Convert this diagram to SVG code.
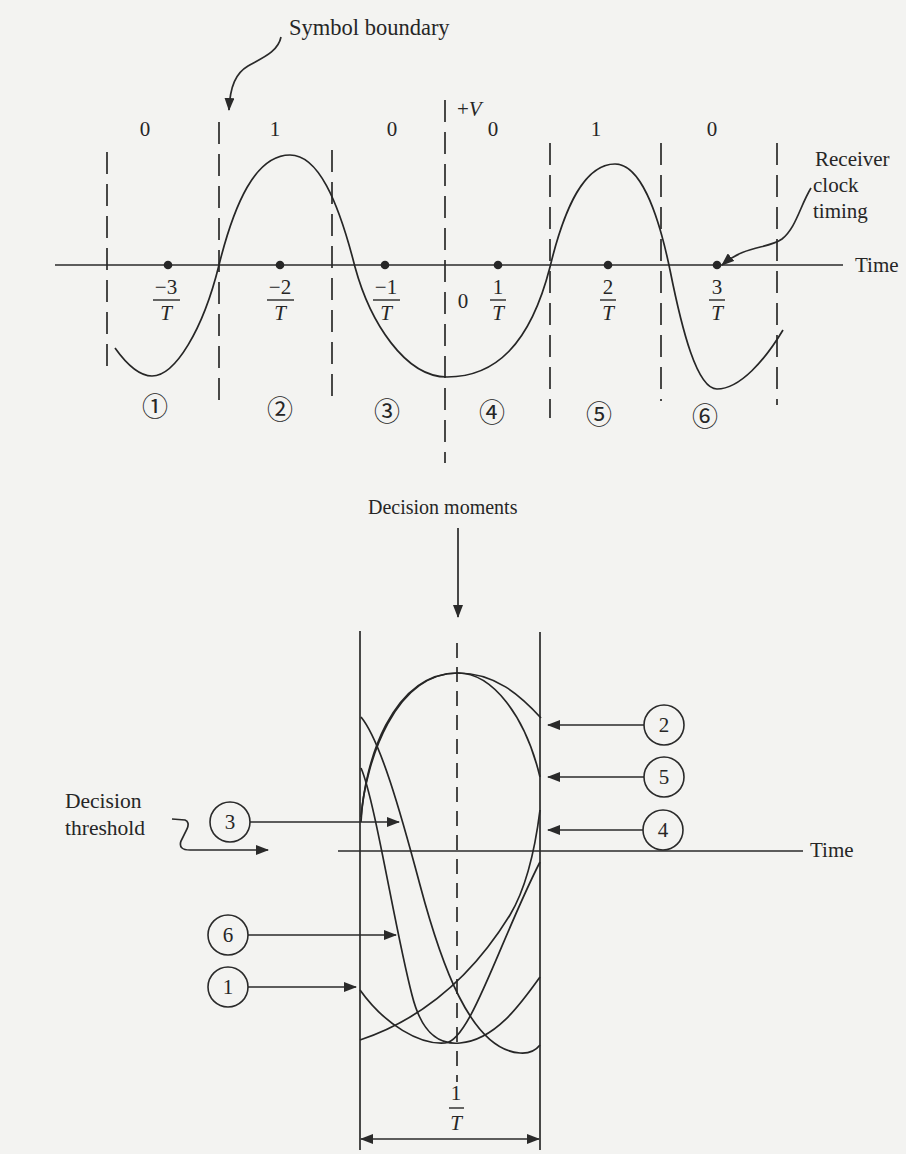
<svg xmlns="http://www.w3.org/2000/svg" width="906" height="1154" viewBox="0 0 906 1154">
<style>
.t{font-family:"Liberation Serif",serif;font-size:21px;fill:#262626}
.n{font-family:"Liberation Serif",serif;font-size:21px;fill:#262626;text-anchor:middle}
.i{font-style:italic}
.c{font-family:"Noto Sans CJK JP",sans-serif;font-size:26px;fill:#262626;text-anchor:middle}
.ln{stroke:#2a2a2a;stroke-width:1.7;fill:none}
.ds{stroke:#2a2a2a;stroke-width:1.7;fill:none;stroke-dasharray:22 10}
.de{stroke:#2a2a2a;stroke-width:1.7;fill:none;stroke-dasharray:15 9}
.wv{stroke:#262626;stroke-width:1.7;fill:none}
.bar{stroke:#262626;stroke-width:1.4}
.cir{fill:none;stroke:#2a2a2a;stroke-width:1.6}
.dot{fill:#262626}
</style>
<defs>
<marker id="ah" markerWidth="13" markerHeight="10" refX="12" refY="5" orient="auto" markerUnits="userSpaceOnUse">
<path d="M0,0 L13,5 L0,10 z" fill="#2a2a2a"/>
</marker>
<marker id="ahs" markerWidth="13" markerHeight="10" refX="1" refY="5" orient="auto" markerUnits="userSpaceOnUse">
<path d="M13,0 L0,5 L13,10 z" fill="#2a2a2a"/>
</marker>
</defs>
<rect width="906" height="1154" fill="#f3f3f1"/>

<!-- ========== TOP: waveform ========== -->
<g id="axis">
<line class="ln" x1="55" y1="265" x2="843" y2="265"/>
<text class="t" x="855" y="272">Time</text>
</g>
<g id="boundaries">
<line class="ds" x1="107" y1="152" x2="107" y2="376"/>
<line class="ds" x1="219" y1="122" x2="219" y2="408"/>
<line class="ds" x1="332" y1="150" x2="332" y2="405"/>
<line class="ds" x1="445" y1="100" x2="445" y2="463"/>
<line class="ds" x1="550" y1="143" x2="550" y2="418"/>
<line class="ds" x1="661" y1="143" x2="661" y2="401"/>
<line class="ds" x1="777" y1="143" x2="777" y2="405"/>
</g>
<g id="waveform">
<path class="wv" d="M115,348 C125,362 138,376 152,376 C175,376 203,330 219,265 C234,205 255,155 290,155 C318,155 338,200 355,267 C370,322 405,377 447,377 C495,377 530,345 550,267 C565,205 585,164 615,164 C640,164 658,212 670,270 C682,330 697,389 717,389 C740,389 765,360 783,330"/>
</g>
<g id="sample-dots">
<circle class="dot" cx="168" cy="265" r="4.3"/>
<circle class="dot" cx="280" cy="265" r="4.3"/>
<circle class="dot" cx="385" cy="265" r="4.3"/>
<circle class="dot" cx="498" cy="265" r="4.3"/>
<circle class="dot" cx="608" cy="265" r="4.3"/>
<circle class="dot" cx="717" cy="265" r="4.3"/>
</g>
<g id="bits">
<text class="n" x="145" y="136">0</text>
<text class="n" x="275" y="136">1</text>
<text class="n" x="392" y="136">0</text>
<text class="n" x="493" y="136">0</text>
<text class="n" x="596" y="136">1</text>
<text class="n" x="712" y="136">0</text>
<text class="t" x="457" y="116">+<tspan class="i">V</tspan></text>
</g>
<g id="time-labels">
<text class="n" x="166" y="294">−3</text><line class="bar" x1="153" y1="300" x2="180" y2="300"/><text class="n i" x="166" y="320">T</text>
<text class="n" x="280" y="294">−2</text><line class="bar" x1="267" y1="300" x2="294" y2="300"/><text class="n i" x="280" y="320">T</text>
<text class="n" x="386" y="294">−1</text><line class="bar" x1="373" y1="300" x2="400" y2="300"/><text class="n i" x="386" y="320">T</text>
<text class="n" x="463" y="308">0</text>
<text class="n" x="498" y="294">1</text><line class="bar" x1="490" y1="300" x2="506" y2="300"/><text class="n i" x="498" y="320">T</text>
<text class="n" x="608" y="294">2</text><line class="bar" x1="600" y1="300" x2="616" y2="300"/><text class="n i" x="608" y="320">T</text>
<text class="n" x="717" y="294">3</text><line class="bar" x1="709" y1="300" x2="725" y2="300"/><text class="n i" x="717" y="320">T</text>
</g>
<g id="slot-numbers">
<text class="c" x="155" y="416">①</text>
<text class="c" x="280" y="419">②</text>
<text class="c" x="387" y="421">③</text>
<text class="c" x="492" y="422">④</text>
<text class="c" x="599" y="424">⑤</text>
<text class="c" x="705" y="426">⑥</text>
</g>
<g id="symbol-boundary">
<text class="t" x="289" y="35" style="font-size:22.5px">Symbol boundary</text>
</g>
<g id="receiver-clock">
<text class="t" x="815" y="166">Receiver</text>
<text class="t" x="813" y="192">clock</text>
<text class="t" x="813" y="218">timing</text>
</g>

<!-- ========== BOTTOM: eye diagram ========== -->
<g id="decision-moments">
<text class="t" x="368" y="514" style="font-size:20px">Decision moments</text>
</g>
<g id="eye-frame">
<line class="ln" x1="360" y1="631" x2="360" y2="1150"/>
<line class="ln" x1="540" y1="632" x2="540" y2="1150"/>
<line class="de" x1="457" y1="643" x2="457" y2="1082"/>
<line class="ln" x1="338" y1="851" x2="803" y2="851"/>
<text class="t" x="810" y="857">Time</text>
</g>
<g id="eye-curves">
<path class="wv" d="M361,817 C366,760 395,673 458,673 C495,673 520,695 541,718"/>
<path class="wv" d="M361,822 C364,762 392,673 458,673 C492,673 525,715 540,777"/>
<path class="wv" d="M361,717 C380,740 400,810 420,885 C440,960 470,1050 520,1053 Q533,1054 540,1045"/>
<path class="wv" d="M361,768 C375,800 395,930 412,995 C422,1035 440,1045 460,1043 C495,1040 520,1005 540,977"/>
<path class="wv" d="M360,990 C385,1025 420,1045 445,1043 C470,1042 500,940 540,862"/>
<path class="wv" d="M360,1040 C420,1020 470,980 510,915 C525,890 535,850 540,810"/>
</g>
<g id="period">
<text class="n" x="456" y="1100">1</text>
<line class="bar" x1="449" y1="1108" x2="464" y2="1108"/>
<text class="n i" x="456" y="1130">T</text>
</g>
<g id="decision-threshold">
<text class="t" x="65" y="808" style="font-size:21.5px">Decision</text>
<text class="t" x="65" y="835" style="font-size:21.5px">threshold</text>
</g>
<g id="label-3"><circle class="cir" cx="230" cy="822" r="20"/><text class="n" x="230" y="829">3</text></g>
<g id="label-6"><circle class="cir" cx="228" cy="935" r="20"/><text class="n" x="228" y="942">6</text></g>
<g id="label-1"><circle class="cir" cx="228" cy="987" r="20"/><text class="n" x="228" y="994">1</text></g>
<g id="label-2"><circle class="cir" cx="664" cy="725" r="20"/><text class="n" x="664" y="732">2</text></g>
<g id="label-5"><circle class="cir" cx="664" cy="777" r="20"/><text class="n" x="664" y="784">5</text></g>
<g id="label-4"><circle class="cir" cx="663" cy="830" r="20"/><text class="n" x="663" y="837">4</text></g>

<g id="connectors">
<path class="ln" d="M281,37 C278,52 262,58 248,66 C236,73 230,86 229,110" marker-end="url(#ah)"/>
<path class="ln" d="M811,188 C800,206 796,228 782,239 C768,249 745,245 722,265" marker-end="url(#ah)"/>
<line class="ln" x1="458" y1="528" x2="458" y2="617" marker-end="url(#ah)"/>
<path class="ln" d="M172,819 L185,820 Q190,822 187,829 L181,841 Q178,850 190,850 L268,850" marker-end="url(#ah)"/>
<line class="ln" x1="250" y1="822" x2="399" y2="822" marker-end="url(#ah)"/>
<line class="ln" x1="248" y1="935" x2="396" y2="935" marker-end="url(#ah)"/>
<line class="ln" x1="248" y1="987" x2="356" y2="987" marker-end="url(#ah)"/>
<line class="ln" x1="644" y1="725" x2="548" y2="725" marker-end="url(#ah)"/>
<line class="ln" x1="644" y1="777" x2="548" y2="777" marker-end="url(#ah)"/>
<line class="ln" x1="643" y1="830" x2="548" y2="830" marker-end="url(#ah)"/>
<line class="ln" x1="361" y1="1139" x2="539" y2="1139" marker-start="url(#ahs)" marker-end="url(#ah)"/>
</g>
</svg>
